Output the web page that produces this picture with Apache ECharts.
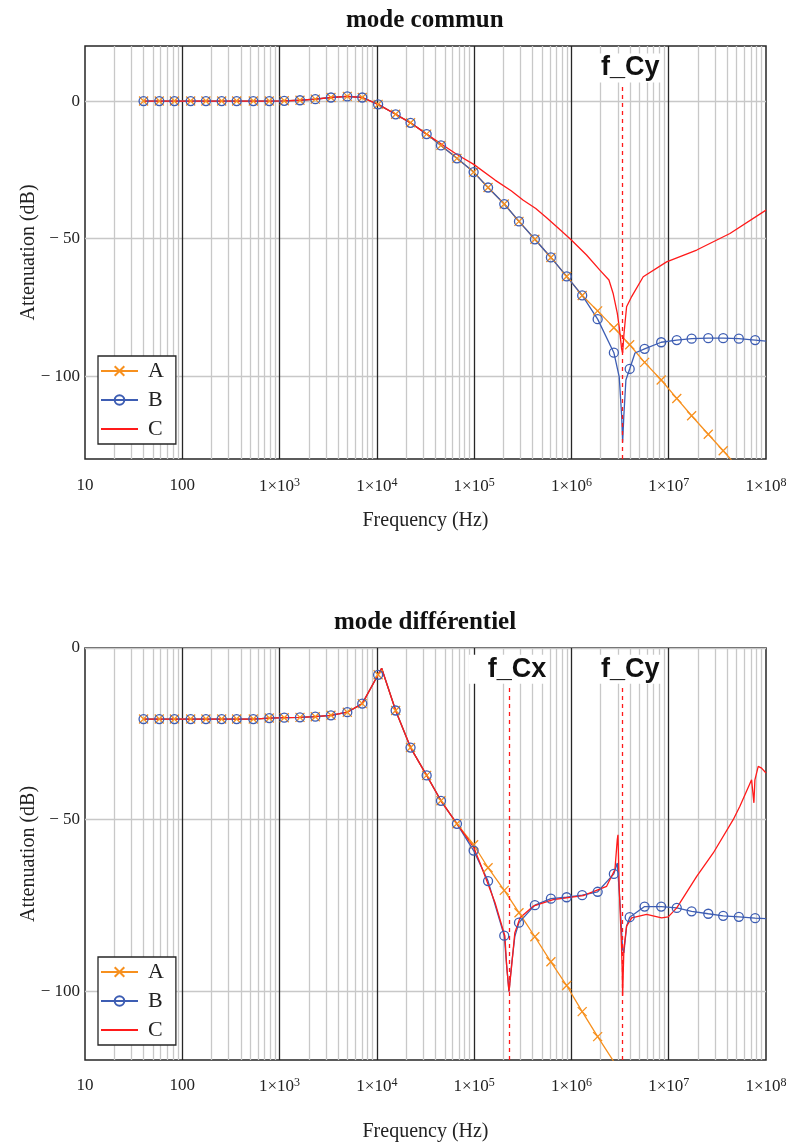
<!DOCTYPE html>
<html>
<head>
<meta charset="utf-8">
<title>mode commun / mode différentiel</title>
<style>
  body { margin: 0; background: #fff; }
  #main { width: 794px; height: 1147px; }
</style>
</head>
<body>
<div id="main"></div>
<script src="https://cdn.jsdelivr.net/npm/echarts@6/dist/echarts.min.js"></script>
<script>
// frequencies (Hz) where the A / B curves carry a marker
var freqMarks = [40, 58, 83, 122, 175, 254, 362, 537, 784, 1117, 1621, 2329, 3375, 4966, 7079,
  1.03e4, 1.56e4, 2.22e4, 3.25e4, 4.56e4, 6.66e4, 9.88e4, 1.39e5, 2.04e5, 2.89e5, 4.21e5, 6.15e5,
  8.93e5, 1.29e6, 1.86e6, 2.73e6, 3.97e6, 5.65e6, 8.37e6, 1.21e7, 1.72e7, 2.55e7, 3.63e7, 5.26e7, 7.74e7];

// ---- mode commun (dB) ----
var cmA = [0, 0, 0, 0, 0, 0, 0, 0, 0, 0.1, 0.3, 0.7, 1.3, 1.7, 1.3, -1.2, -4.8, -7.9, -12, -16.1,
  -20.8, -25.8, -31.4, -37.4, -43.7, -50.2, -56.8, -63.7, -70.6, -76.2, -82.3, -88.5, -94.9, -101.3,
  -108, -114.3, -121, -127, -133.4];
var cmB = [0, 0, 0, 0, 0, 0, 0, 0, 0, 0.1, 0.3, 0.7, 1.3, 1.7, 1.3, -1.2, -4.8, -7.9, -12, -16.1,
  -20.8, -25.8, -31.4, -37.4, -43.7, -50.2, -56.8, -63.7, -70.6, -79.2, -91.4, -97.3, -90, -87.6,
  -86.8, -86.3, -86.1, -86.1, -86.3, -86.8];
var cmBExtraF = [3.10e6, 3.28e6, 3.36e6, 3.46e6, 3.63e6, 4.5e6, 1e8];
var cmBExtraV = [-100.2, -114, -124, -114, -101.3, -91.5, -87.2];
var cmCF = [40, 58, 83, 122, 175, 254, 362, 537, 784, 1117, 1621, 2329, 3375, 4966, 7079,
  1.03e4, 1.56e4, 2.22e4, 3.25e4, 4.56e4, 6.66e4, 9.9e4, 1.64e5, 2.4e5, 3.2e5, 4.3e5, 5.56e5, 7.4e5, 9.8e5,
  1.43e6, 1.96e6, 2.43e6, 2.69e6, 2.96e6, 3.10e6, 3.28e6, 3.36e6, 3.46e6, 3.55e6, 3.69e6, 4.16e6, 5.47e6,
  9.51e6, 1.94e7, 4.26e7, 1e8];
var cmCV = [0, 0, 0, 0, 0, 0, 0, 0, 0, 0.1, 0.3, 0.7, 1.3, 1.7, 1.3,
  -1.2, -4.8, -7.9, -12, -15.5, -19.4, -23, -28.7, -32.6, -36, -39, -42.4, -46.3, -50.2,
  -55.9, -61.4, -65, -70, -77, -82, -90, -91.5, -85, -80.8, -74.7, -71, -63.8,
  -58.4, -54.1, -48.1, -39.6];

// ---- mode différentiel (dB) ----
var dfA = [-20.7, -20.7, -20.7, -20.7, -20.7, -20.7, -20.7, -20.7, -20.4, -20.3, -20.2, -20, -19.6,
  -18.7, -16.2, -7.8, -18.2, -29, -37.1, -44.5, -51.2, -57.3, -64, -70.6, -77.1, -84.1, -91.4,
  -98.3, -105.9, -113.2, -120.5];
var dfAExtraF = [1.12e4];
var dfAExtraV = [-5.9];
var dfB = [-20.7, -20.7, -20.7, -20.7, -20.7, -20.7, -20.7, -20.7, -20.4, -20.3, -20.2, -20, -19.6,
  -18.7, -16.2, -7.8, -18.2, -29, -37.1, -44.5, -51.2, -59, -67.9, -83.8, -80, -74.9, -73, -72.6,
  -72, -71, -65.8, -78.4, -75.3, -75.3, -75.7, -76.7, -77.4, -78, -78.3, -78.7];
var dfBExtraF = [1.12e4, 2.16e5, 2.28e5, 2.43e5, 2.62e5, 2.96e6, 3.15e6, 3.36e6, 3.46e6, 3.69e6, 1e8];
var dfBExtraV = [-5.9, -92.6, -100, -92, -84, -62.6, -73.7, -87.8, -88.8, -81, -78.8];
var dfCF = [40, 58, 83, 122, 175, 254, 362, 537, 784, 1117, 1621, 2329, 3375, 4966, 7079,
  1.03e4, 1.12e4, 1.56e4, 2.22e4, 3.25e4, 4.56e4, 6.66e4, 9.88e4,
  1.15e5, 1.64e5, 2.07e5, 2.16e5, 2.28e5, 2.43e5, 2.62e5, 2.96e5, 4.05e5, 6.50e5, 1.32e6, 2.30e6,
  2.80e6, 2.96e6, 3.01e6, 3.10e6, 3.27e6, 3.33e6, 3.36e6, 3.46e6, 3.69e6, 4.16e6, 5.93e6, 8.45e6,
  9.88e6, 1.21e7, 1.94e7, 2.87e7, 4.60e7, 5.39e7, 7.11e7, 7.51e7, 7.69e7, 8.32e7, 9.01e7, 1e8];
var dfCV = [-20.7, -20.7, -20.7, -20.7, -20.7, -20.7, -20.7, -20.7, -20.4, -20.3, -20.2, -20, -19.6,
  -18.7, -16.2, -7.8, -5.9, -18.2, -29, -37.1, -44.5, -51.2, -58,
  -62.6, -74.2, -83.9, -92.6, -100, -92.6, -82.9, -78.6, -75.2, -73.3, -72.1, -69.4,
  -64.5, -55.8, -54.4, -70, -86.8, -94.6, -101.3, -87.8, -81, -78.6, -77.6, -78.6,
  -78.3, -75.7, -66.5, -59.7, -50, -46.1, -38.4, -45.1, -38.4, -34.5, -35, -36.4];

var fCx = 2.28e5;
var fCy = 3.33e6;
var yGridValues = [0, -50, -100];
var decades = [10, 100, 1e3, 1e4, 1e5, 1e6, 1e7, 1e8];

var FONT = 'Liberation Serif';
var ORANGE = '#f7901e', BLUE = '#3d5db3', RED = '#ff1a1a';
var GRAY = '#c8c8c8', DARK = '#262626';
var X_PATH = 'path://M0,0L10,10M10,0L0,10';
var PLOT_CX = 425;

function markedLine(vals, exF, exV) {
  var pts = vals.map(function (v, i) { return { value: [freqMarks[i], v] }; });
  exF.forEach(function (f, i) { pts.push({ value: [f, exV[i]], symbol: 'none' }); });
  pts.sort(function (a, b) { return a.value[0] - b.value[0]; });
  return pts;
}
function plainLine(fs, vs) {
  return fs.map(function (f, i) { return [f, vs[i]]; });
}

// light grey grid lines (2..9 of each decade + dB lines), then the dark decade lines
function gridMarks() {
  var d = [];
  for (var k = 0; k < decades.length - 1; k++) {
    for (var m = 2; m <= 9; m++) d.push({ xAxis: m * decades[k] });
  }
  yGridValues.forEach(function (v) { d.push({ yAxis: v }); });
  decades.slice(1, -1).forEach(function (f) {
    d.push({ xAxis: f, lineStyle: { color: DARK, width: 1.3, type: 'solid' } });
  });
  return d;
}

function fLine(f, name, ymin, ytop) {
  return [{ coord: [f, ymin], label: { formatter: name } }, { coord: [f, ytop] }];
}

// left position that centres a title over the plot area
function titleLeft(text) {
  var ctx = document.createElement('canvas').getContext('2d');
  ctx.font = 'bold 25px "' + FONT + '"';
  return Math.round(PLOT_CX - ctx.measureText(text).width / 2 - 5);
}

function xAxisFor(gi, nameGap, margin) {
  return {
    type: 'log', logBase: 10, gridIndex: gi, min: 10, max: 1e8, splitNumber: 7,
    name: 'Frequency (Hz)', nameLocation: 'middle', nameGap: nameGap, nameMoveOverlap: false,
    nameTextStyle: { fontFamily: FONT, fontSize: 20, color: '#222' },
    axisLine: { show: false }, axisTick: { show: false }, splitLine: { show: false },
    axisLabel: {
      margin: margin, fontFamily: FONT, fontSize: 17, color: '#222',
      formatter: function (v) {
        var e = Math.round(Math.log10(v));
        if (e < 3) return String(Math.round(v));
        return '1×10{s|' + e + '}';
      },
      rich: { s: { fontFamily: FONT, fontSize: 12, color: '#222', verticalAlign: 'top', padding: [0, 0, 8, 0] } }
    }
  };
}

function yAxisFor(gi, min, max) {
  return {
    type: 'value', gridIndex: gi, min: min, max: max, interval: 10,
    name: 'Attenuation (dB)', nameLocation: 'middle', nameGap: 46, nameMoveOverlap: false,
    nameTextStyle: { fontFamily: FONT, fontSize: 20, color: '#222' },
    axisLine: { show: false }, axisTick: { show: false }, splitLine: { show: false },
    axisLabel: {
      margin: 5, fontFamily: FONT, fontSize: 17, color: '#222',
      formatter: function (v) {
        if (v % 50 !== 0) return '';
        return v < 0 ? '\u2212 ' + (-v) : String(v);
      }
    }
  };
}

function seriesFor(gi, aData, bData, cData, ymin, ytop, fMarks) {
  return [
    {
      name: 'grid', type: 'line', xAxisIndex: gi, yAxisIndex: gi, data: [[10, ymin]],
      symbol: 'none', lineStyle: { opacity: 0 }, silent: true, z: 1,
      markLine: {
        silent: true, symbol: 'none', z: 1, animation: false,
        label: { show: false },
        lineStyle: { color: GRAY, width: 1.3, type: 'solid' },
        data: gridMarks()
      }
    },
    {
      name: 'A', type: 'line', xAxisIndex: gi, yAxisIndex: gi, data: aData, clip: true,
      symbol: X_PATH, symbolSize: 9, showAllSymbol: true,
      lineStyle: { color: ORANGE, width: 1.3 },
      itemStyle: { color: 'rgba(0,0,0,0)', borderColor: ORANGE, borderWidth: 1.3 },
      emphasis: { disabled: true }
    },
    {
      name: 'B', type: 'line', xAxisIndex: gi, yAxisIndex: gi, data: bData, clip: true,
      symbol: 'circle', symbolSize: 9, showAllSymbol: true,
      lineStyle: { color: BLUE, width: 1.3 },
      itemStyle: { color: 'rgba(0,0,0,0)', borderColor: BLUE, borderWidth: 1.3 },
      emphasis: { disabled: true }
    },
    {
      name: 'C', type: 'line', xAxisIndex: gi, yAxisIndex: gi, data: cData, clip: true,
      symbol: 'none', lineStyle: { color: RED, width: 1.3 },
      itemStyle: { color: 'rgba(0,0,0,0)', borderColor: 'rgba(0,0,0,0)' },
      emphasis: { disabled: true },
      markLine: {
        silent: true, symbol: 'none', animation: false,
        lineStyle: { color: RED, width: 1.3, type: [4, 4] },
        label: {
          show: true, position: 'end', distance: 2,
          fontFamily: 'Liberation Sans', fontWeight: 'bold', fontSize: 27, color: '#111',
          backgroundColor: '#fff', padding: [1, 3, 1, 19]
        },
        data: fMarks.map(function (m) { return fLine(m[0], m[1], ymin, ytop); })
      }
    }
  ];
}

function legendFor(top) {
  return {
    data: ['A', 'B', 'C'], orient: 'vertical', left: 98, top: top,
    itemWidth: 37, itemHeight: 12, itemGap: 7, selectedMode: false,
    padding: [4, 12, 4, 2], borderColor: DARK, borderWidth: 1.3, backgroundColor: '#fff',
    textStyle: { fontFamily: FONT, fontSize: 22, color: '#222', padding: [0, 0, 0, 5] }
  };
}

var chart = echarts.init(document.getElementById('main'));
chart.setOption({
  animation: false,
  backgroundColor: '#fff',
  title: [
    { text: 'mode commun', left: titleLeft('mode commun'), top: 3,
      textStyle: { fontFamily: FONT, fontWeight: 'bold', fontSize: 25, color: '#111' } },
    { text: 'mode différentiel', left: titleLeft('mode différentiel'), top: 605,
      textStyle: { fontFamily: FONT, fontWeight: 'bold', fontSize: 25, color: '#111' } }
  ],
  legend: [legendFor(356), legendFor(957)],
  grid: [
    { left: 85, top: 46, width: 681, height: 413, show: true, borderColor: DARK, borderWidth: 1.5,
      backgroundColor: '#fff' },
    { left: 85, top: 648, width: 681, height: 412, show: true, borderColor: DARK, borderWidth: 1.5,
      backgroundColor: '#fff' }
  ],
  xAxis: [xAxisFor(0, 52, 18), xAxisFor(1, 62, 17)],
  yAxis: [yAxisFor(0, -130, 20), yAxisFor(1, -120, 0)],
  series: [].concat(
    seriesFor(0, markedLine(cmA, [], []), markedLine(cmB, cmBExtraF, cmBExtraV), plainLine(cmCF, cmCV),
      -130, 6, [[fCy, 'f_Cy']]),
    seriesFor(1, markedLine(dfA, dfAExtraF, dfAExtraV), markedLine(dfB, dfBExtraF, dfBExtraV),
      plainLine(dfCF, dfCV), -120, -11, [[fCx, 'f_Cx'], [fCy, 'f_Cy']])
  )
});
</script>
</body>
</html>
